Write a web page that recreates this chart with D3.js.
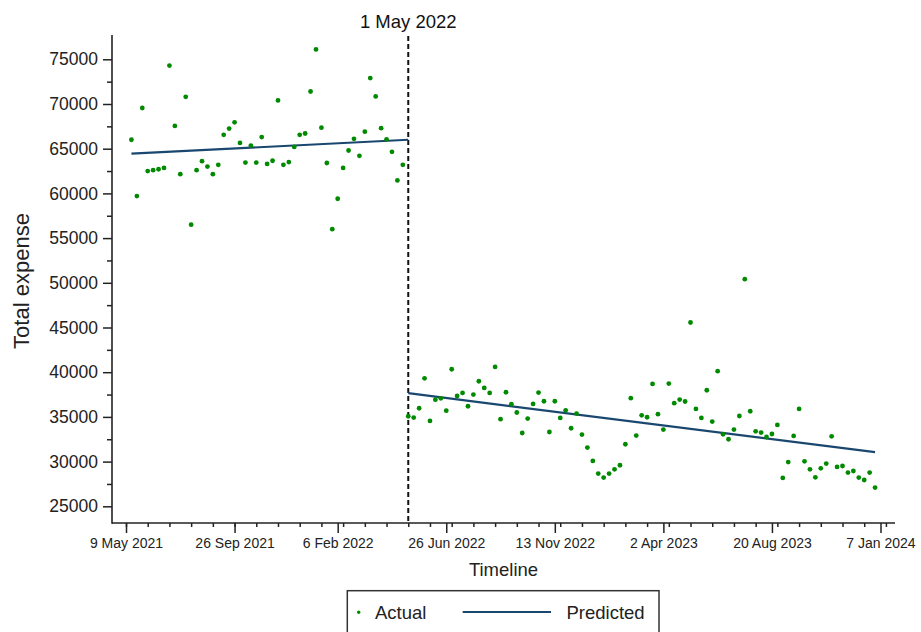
<!DOCTYPE html>
<html>
<head>
<meta charset="utf-8">
<script src="https://cdn.jsdelivr.net/npm/d3@7"></script>
<style>
  body { margin: 0; background: #fff; }
  svg { display: block; font-family: "Liberation Sans", Arial, sans-serif; }
</style>
</head>
<body>
<svg id="chart" width="921" height="632"></svg>
<script>
// weekly observations, first one on 16 May 2021
const firstWeek = "16 May 2021";
const breakLabel = "1 May 2022";

// actual totals before the break (51 weeks)
const preActual = [
  66000, 59700, 69550, 62500, 62600, 62700, 62850, 74300, 67550, 62150,
  70800, 56500, 62600, 63600, 63000, 62150, 63200, 66550, 67250, 67950,
  65650, 63450, 65350, 63450, 66300, 63300, 63650, 70400, 63200, 63500,
  65200, 66550, 66700, 71400, 76100, 67350, 63400, 56000, 59400, 62850,
  64800, 66100, 64200, 66900, 72900, 70850, 67300, 66050, 64650, 61450,
  63200
];

// actual totals from the break on (87 weeks)
const postActual = [
  35070, 34920, 35970, 39320, 34550, 36930, 37080, 35700, 40330, 37340,
  37680, 36190, 37500, 38990, 38240, 37680, 40590, 34740, 37760, 36420,
  35490, 33200, 34810, 36450, 37720, 36750, 33310, 36750, 34880, 35740,
  33730, 35370, 33020, 31570, 30070, 28660, 28210, 28660, 29140, 29590,
  31940, 37090, 32910, 35180, 34960, 38690, 35300, 33580, 38730, 36530,
  36940, 36720, 45560, 35890, 34880, 37980, 34480, 40110, 33060, 32500,
  33580, 35100, 50400, 35630, 33390, 33250, 32750, 33090, 34100, 28170,
  29950, 32870, 35890, 30030, 29140, 28240, 29250, 29780, 32830, 29400,
  29510, 28770, 28950, 28210, 27940, 28770, 27100
];

// fitted trend end points for each period
const prePredicted = [64450, 66000];
const postPredicted = [37650, 31050];

const xTickLabels = ["9 May 2021", "26 Sep 2021", "6 Feb 2022", "26 Jun 2022",
  "13 Nov 2022", "2 Apr 2023", "20 Aug 2023", "7 Jan 2024"];
const yTicks = [25000, 30000, 35000, 40000, 45000, 50000, 55000, 60000, 65000, 70000, 75000];
const yMinorTicks = [27500, 32500, 37500, 42500, 47500, 52500, 57500, 62500, 67500, 72500];

const parse = d3.utcParse("%-d %b %Y");
const start = parse(firstWeek);
const nPre = preActual.length;
const actual = preActual.concat(postActual).map((v, i) => ({
  date: d3.utcDay.offset(start, 7 * i), value: v
}));
const breakDate = actual[nPre].date;
const lastDate = actual[actual.length - 1].date;

const svg = d3.select("#chart");
const plotLeft = 112, plotRight = 895, plotTop = 35, plotBottom = 523;

const tickDates = xTickLabels.map(parse);
const x = d3.scaleUtc()
  .domain([tickDates[0], tickDates[tickDates.length - 1]])
  .range([126, 880.5]);
const y = d3.scaleLinear()
  .domain([25000, 75000])
  .range([506.3, 59.3]);

const minorDates = d3.range(0, 36).map(k => d3.utcDay.offset(tickDates[0], 28 * k));

// x axis
const gx = svg.append("g").attr("transform", "translate(0," + plotBottom + ")");
gx.call(d3.axisBottom(x).tickValues(minorDates).tickSize(4).tickFormat(""));
gx.append("g").call(d3.axisBottom(x).tickValues(tickDates).tickSize(10)
  .tickFormat((d, i) => xTickLabels[i]));
gx.selectAll(".domain").remove();
gx.selectAll("line").attr("stroke", "#222").attr("stroke-width", 1.5);
gx.selectAll("text").attr("fill", "#222").style("font-size", "14px").attr("dy", "0.3em").attr("y", 21);

// y axis
const gy = svg.append("g").attr("transform", "translate(" + plotLeft + ",0)");
gy.call(d3.axisLeft(y).tickValues(yMinorTicks).tickSize(5).tickFormat(""));
gy.append("g").call(d3.axisLeft(y).tickValues(yTicks).tickSize(9).tickFormat(d3.format("d")));
gy.selectAll(".domain").remove();
gy.selectAll("line").attr("stroke", "#222").attr("stroke-width", 1.5);
gy.selectAll("text").attr("fill", "#222").style("font-size", "17.5px").attr("x", -14);

svg.append("line").attr("x1", plotLeft).attr("x2", plotLeft).attr("y1", plotTop).attr("y2", plotBottom + 0.7)
  .attr("stroke", "#222").attr("stroke-width", 1.6);
svg.append("line").attr("x1", plotLeft).attr("x2", plotRight).attr("y1", plotBottom).attr("y2", plotBottom)
  .attr("stroke", "#222").attr("stroke-width", 1.6);

// axis titles
svg.append("text").attr("x", (plotLeft + plotRight) / 2).attr("y", 576)
  .attr("text-anchor", "middle").attr("fill", "#222").style("font-size", "18.5px").text("Timeline");
svg.append("text").attr("transform", "translate(29,281)rotate(-90)")
  .attr("text-anchor", "middle").attr("fill", "#222").style("font-size", "22px").text("Total expense");

// break line
svg.append("line")
  .attr("x1", x(breakDate)).attr("x2", x(breakDate))
  .attr("y1", plotTop + 1).attr("y2", plotBottom)
  .attr("stroke", "#111").attr("stroke-width", 2).attr("stroke-dasharray", "5,3");
svg.append("text").attr("x", x(breakDate)).attr("y", 28)
  .attr("text-anchor", "middle").attr("fill", "#111").style("font-size", "18.5px").text(breakLabel);

// predicted trends
const trend = d3.line().x(d => x(d.date)).y(d => y(d.value));
const trends = [
  [{date: start, value: prePredicted[0]}, {date: breakDate, value: prePredicted[1]}],
  [{date: breakDate, value: postPredicted[0]}, {date: lastDate, value: postPredicted[1]}]
];
svg.selectAll(".trend").data(trends).enter().append("path")
  .attr("class", "trend")
  .attr("d", trend)
  .attr("fill", "none").attr("stroke", "#1a476f").attr("stroke-width", 2.2);

// actual points
svg.selectAll(".pt").data(actual).enter().append("circle")
  .attr("class", "pt")
  .attr("cx", d => x(d.date)).attr("cy", d => y(d.value))
  .attr("r", 2.4).attr("fill", "#008a00");

// legend
const lg = svg.append("g");
lg.append("rect").attr("x", 347.3).attr("y", 590.7).attr("width", 311.7).attr("height", 60)
  .attr("fill", "none").attr("stroke", "#333").attr("stroke-width", 1.5);
lg.append("circle").attr("cx", 358.7).attr("cy", 612.3).attr("r", 1.7).attr("fill", "#008a00");
lg.append("text").attr("x", 375).attr("y", 619).attr("fill", "#222").style("font-size", "18.5px").text("Actual");
lg.append("line").attr("x1", 462.7).attr("x2", 551).attr("y1", 612).attr("y2", 612)
  .attr("stroke", "#1a476f").attr("stroke-width", 2.2);
lg.append("text").attr("x", 566.5).attr("y", 619).attr("fill", "#222").style("font-size", "18.5px").text("Predicted");
</script>
</body>
</html>
